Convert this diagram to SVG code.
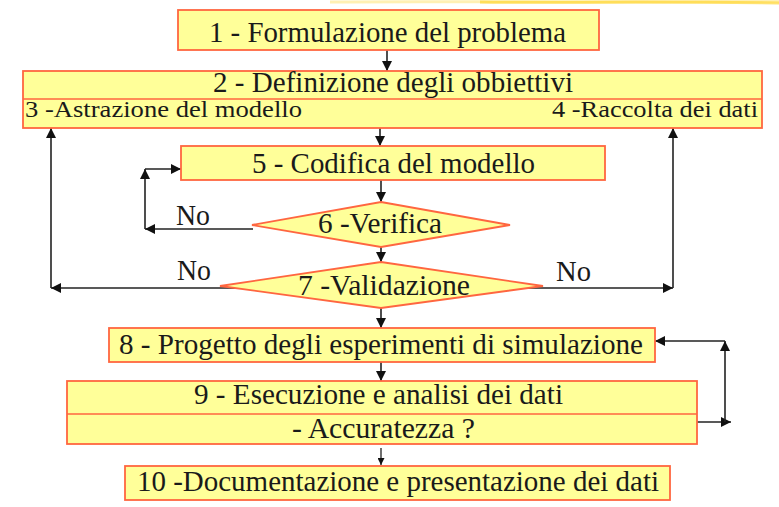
<svg xmlns="http://www.w3.org/2000/svg" width="779" height="507" viewBox="0 0 779 507">
<style>
.box{fill:#FFFF99;stroke:#FF6640;stroke-width:1.8}
.div{stroke:#FF6640;stroke-width:1.5;fill:none}
text{font-family:"Liberation Serif","Times New Roman",Times,"DejaVu Serif",serif;fill:#1a1a1a}
.t{font-size:29px}
.s{font-size:24px}
.ln{stroke:#222;stroke-width:1.6;fill:none;marker-end:url(#ah)}
.lns{stroke:#222;stroke-width:1.3;fill:none;marker-end:url(#ahs)}
</style>
<defs>
<marker id="ah" viewBox="0 0 10 10" refX="10" refY="5" markerWidth="11" markerHeight="10" markerUnits="userSpaceOnUse" orient="auto"><path d="M0,0 L10,5 L0,10 z" fill="#111"/></marker>
<marker id="ahs" viewBox="0 0 10 10" refX="10" refY="5" markerWidth="7" markerHeight="7" markerUnits="userSpaceOnUse" orient="auto"><path d="M0,0 L10,5 L0,10 z" fill="#111"/></marker>
</defs>
<rect width="779" height="507" fill="#fff"/>
<g id="decor">
<path d="M330,2 C450,1 560,3 779,1" stroke="#FFE680" stroke-width="3" fill="none" opacity="0.6"/>
<path d="M480,2 C560,3 640,1 779,3" stroke="#FFD633" stroke-width="3" fill="none" opacity="0.7"/>
</g>
<g id="connectors">
<line class="ln" x1="387" y1="50" x2="387" y2="71"/>
<line class="ln" x1="380" y1="128" x2="380" y2="146"/>
<line class="ln" x1="381" y1="180" x2="381" y2="202"/>
<line class="ln" x1="381" y1="247" x2="381" y2="262"/>
<line class="ln" x1="381" y1="308" x2="381" y2="328"/>
<line class="ln" x1="381" y1="362" x2="381" y2="381"/>
<line class="lns" x1="381" y1="448" x2="381" y2="465"/>
<line class="ln" x1="253" y1="229" x2="145" y2="229"/>
<line class="ln" x1="145" y1="229" x2="145" y2="169"/>
<line class="ln" x1="145" y1="169" x2="181" y2="169"/>
<line class="ln" x1="237" y1="288" x2="51" y2="288"/>
<line class="ln" x1="51" y1="288" x2="51" y2="128"/>
<line class="ln" x1="525" y1="288" x2="673" y2="288"/>
<line class="ln" x1="673" y1="288" x2="673" y2="128"/>
<line class="ln" x1="697" y1="422" x2="731" y2="422"/>
<line class="ln" x1="725" y1="422" x2="725" y2="341"/>
<line class="ln" x1="725" y1="341" x2="655" y2="341"/>
</g>
<g id="n1">
<rect class="box" x="178" y="10" width="421" height="40"/>
<text class="t" x="209" y="42" font-family="Liberation Serif" textLength="357" lengthAdjust="spacingAndGlyphs">1 - Formulazione del problema</text>
</g>
<g id="n2">
<rect class="box" x="23" y="71" width="739" height="57"/>
<line class="div" x1="23" y1="99" x2="762" y2="99"/>
<text class="t" x="213" y="92" textLength="360" lengthAdjust="spacingAndGlyphs">2 - Definizione degli obbiettivi</text>
<text class="s" x="25" y="117" textLength="277" lengthAdjust="spacingAndGlyphs">3 -Astrazione del modello</text>
<text class="s" x="552" y="117" textLength="206" lengthAdjust="spacingAndGlyphs">4 -Raccolta dei dati</text>
</g>
<g id="n5">
<rect class="box" x="181" y="146" width="424" height="34"/>
<text class="t" x="252" y="173" textLength="283" lengthAdjust="spacingAndGlyphs">5 - Codifica del modello</text>
</g>
<g id="n6">
<polygon class="box" points="381,202 510,225 381,247 252,225"/>
<text class="t" x="318" y="233" textLength="124" lengthAdjust="spacingAndGlyphs">6 -Verifica</text>
</g>
<g id="n7">
<polygon class="box" points="381,262 543,286 381,308 220,286"/>
<text class="t" x="298" y="295" textLength="172" lengthAdjust="spacingAndGlyphs">7 -Validazione</text>
</g>
<g id="labels">
<text class="t" x="176" y="225" textLength="34" lengthAdjust="spacingAndGlyphs">No</text>
<text class="t" x="177" y="280" textLength="34" lengthAdjust="spacingAndGlyphs">No</text>
<text class="t" x="556" y="281" textLength="35" lengthAdjust="spacingAndGlyphs">No</text>
</g>
<g id="n8">
<rect class="box" x="109" y="328" width="546" height="34"/>
<text class="t" x="119" y="354" textLength="524" lengthAdjust="spacingAndGlyphs">8 - Progetto degli esperimenti di simulazione</text>
</g>
<g id="n9">
<rect class="box" x="67" y="381" width="630" height="63"/>
<line class="div" x1="67" y1="414" x2="697" y2="414"/>
<text class="t" x="194" y="404" textLength="369" lengthAdjust="spacingAndGlyphs">9 - Esecuzione e analisi dei dati</text>
<text class="t" x="292" y="438" textLength="183" lengthAdjust="spacingAndGlyphs">- Accuratezza ?</text>
</g>
<g id="n10">
<rect class="box" x="125" y="466" width="545" height="34"/>
<text class="t" x="137" y="491" textLength="522" lengthAdjust="spacingAndGlyphs">10 -Documentazione e presentazione dei dati</text>
</g>
</svg>
